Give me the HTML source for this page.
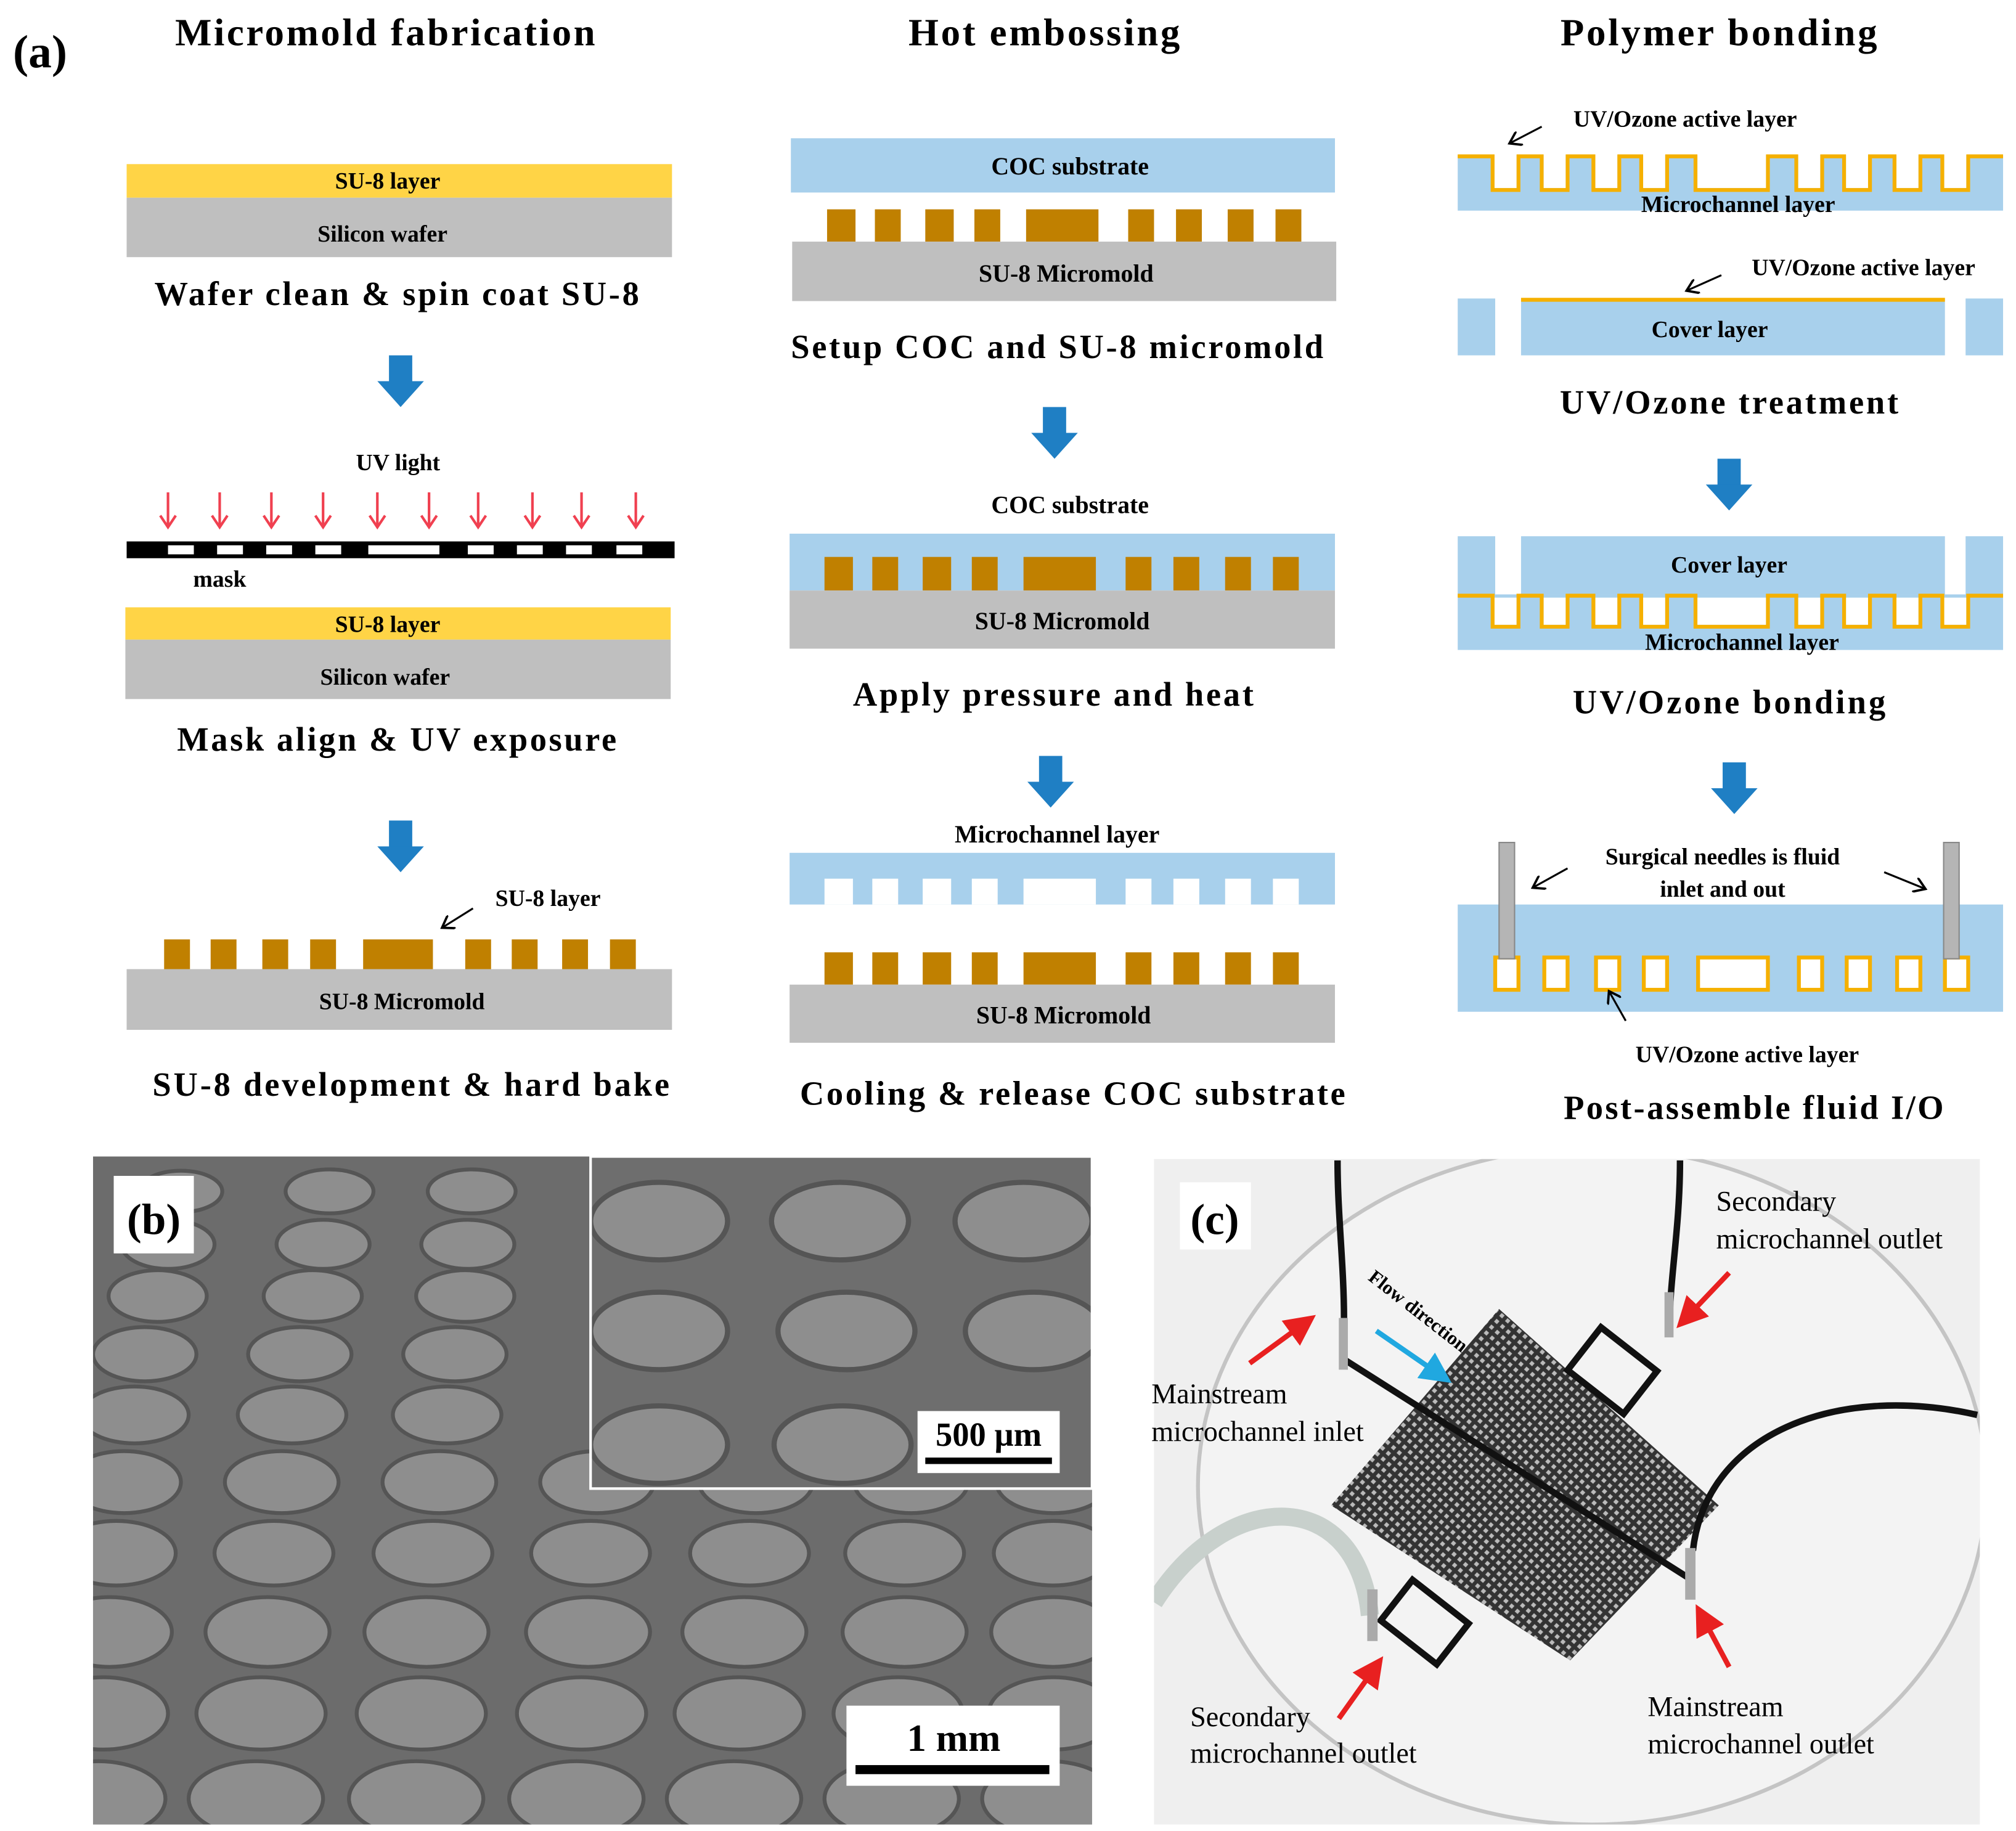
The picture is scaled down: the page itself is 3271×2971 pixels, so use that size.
<!DOCTYPE html>
<html><head><meta charset="utf-8"><style>html,body{margin:0;padding:0;background:#fff}svg{display:block}</style></head><body>
<svg xmlns="http://www.w3.org/2000/svg" width="3271" height="2971" viewBox="0 0 1560 1417" preserveAspectRatio="none" font-family="Liberation Serif, serif" font-weight="bold">
<defs>
<g id="da"><rect x="-9" y="0" width="18" height="22" fill="#1f7fc4"/><polygon points="-18,20 18,20 0,40" fill="#1f7fc4"/></g>
<g id="ra"><line x1="0" y1="0" x2="0" y2="26" stroke="#f04050" stroke-width="2"/><polyline points="-6,18 0,27 6,18" fill="none" stroke="#f04050" stroke-width="2"/></g>
<pattern id="grid" width="6" height="6" patternUnits="userSpaceOnUse" patternTransform="rotate(42)"><rect width="6" height="6" fill="#333"/><rect x="1.5" y="1.5" width="3" height="3" fill="#bbb"/></pattern>
<marker id="ah" markerWidth="8" markerHeight="8" refX="6" refY="4" orient="auto"><polyline points="0,0 6,4 0,8" fill="none" stroke="#000" stroke-width="1.2"/></marker>
<marker id="rh" markerWidth="6" markerHeight="6" refX="5" refY="3" orient="auto"><polygon points="0,0 6,3 0,6" fill="#e82020"/></marker>
<marker id="bh" markerWidth="6" markerHeight="6" refX="5" refY="3" orient="auto"><polygon points="0,0 6,3 0,6" fill="#20a8e0"/></marker>
<clipPath id="cb"><rect x="72" y="895" width="773" height="517"/></clipPath>
<clipPath id="ci"><rect x="457" y="895" width="388" height="257"/></clipPath>
<clipPath id="cc"><rect x="893" y="897" width="639" height="515"/></clipPath>
</defs>
<rect width="1560" height="1417" fill="#fff"/>
<text x="10" y="52" font-size="36">(a)</text>
<g font-size="30" text-anchor="middle">
<text x="298" y="35" textLength="325">Micromold fabrication</text>
<text x="808" y="35" textLength="210">Hot embossing</text>
<text x="1330" y="35" textLength="245">Polymer bonding</text>
</g>

<!-- Column 1 shapes -->
<rect x="98" y="127" width="422" height="26" fill="#ffd446"/>
<rect x="98" y="153" width="422" height="46" fill="#bfbfbf"/>
<use href="#da" x="310" y="275"/>
<use href="#da" x="310" y="635"/>
<use href="#da" x="816" y="315"/>
<use href="#da" x="813" y="585"/>
<use href="#da" x="1338" y="355"/>
<use href="#da" x="1342" y="590"/>
<g><use href="#ra" x="130" y="381"/><use href="#ra" x="170" y="381"/><use href="#ra" x="210" y="381"/><use href="#ra" x="250" y="381"/><use href="#ra" x="292" y="381"/><use href="#ra" x="332" y="381"/><use href="#ra" x="370" y="381"/><use href="#ra" x="412" y="381"/><use href="#ra" x="450" y="381"/><use href="#ra" x="492" y="381"/></g>
<rect x="98" y="419" width="424" height="13" fill="#000"/>
<g fill="#fff"><rect x="130" y="422" width="20" height="7"/><rect x="168" y="422" width="20" height="7"/><rect x="206" y="422" width="20" height="7"/><rect x="244" y="422" width="20" height="7"/><rect x="285" y="422" width="55" height="7"/><rect x="362" y="422" width="20" height="7"/><rect x="400" y="422" width="20" height="7"/><rect x="438" y="422" width="20" height="7"/><rect x="477" y="422" width="20" height="7"/></g>
<rect x="97" y="470" width="422" height="25" fill="#ffd446"/>
<rect x="97" y="495" width="422" height="46" fill="#bfbfbf"/>
<line x1="366" y1="703" x2="342" y2="718" stroke="#000" stroke-width="1.5" marker-end="url(#ah)"/>
<g fill="#c08000"><rect x="127" y="727" width="20" height="23"/><rect x="163" y="727" width="20" height="23"/><rect x="203" y="727" width="20" height="23"/><rect x="240" y="727" width="20" height="23"/><rect x="281" y="727" width="54" height="23"/><rect x="360" y="727" width="20" height="23"/><rect x="396" y="727" width="20" height="23"/><rect x="435" y="727" width="20" height="23"/><rect x="472" y="727" width="20" height="23"/></g>
<rect x="98" y="750" width="422" height="47" fill="#bfbfbf"/>
<g font-size="18" text-anchor="middle">
<text x="300" y="146">SU-8 layer</text>
<text x="296" y="187">Silicon wafer</text>
<text x="300" y="489">SU-8 layer</text>
<text x="298" y="530">Silicon wafer</text>
<text x="308" y="364">UV light</text>
<text x="170" y="454">mask</text>
<text x="424" y="701">SU-8 layer</text>
<text x="311" y="781">SU-8 Micromold</text>
</g>
<g font-size="26" text-anchor="middle">
<text x="307" y="236" textLength="375">Wafer clean &amp; spin coat SU-8</text>
<text x="307" y="581" textLength="340">Mask align &amp; UV exposure</text>
<text x="318" y="848" textLength="400">SU-8 development &amp; hard bake</text>
<text x="818" y="277" textLength="412">Setup COC and SU-8 micromold</text>
<text x="815" y="546" textLength="310">Apply pressure  and heat</text>
<text x="830" y="855" textLength="422">Cooling &amp; release COC substrate</text>
<text x="1338" y="320" textLength="262">UV/Ozone treatment</text>
<text x="1338" y="552" textLength="242">UV/Ozone bonding</text>
<text x="1357" y="866" textLength="294">Post-assemble fluid I/O</text>
</g>

<!-- Column 2 -->
<rect x="612" y="107" width="421" height="42" fill="#a8d0ec"/>
<g fill="#c08000"><rect x="640" y="162" width="22" height="25"/><rect x="677" y="162" width="20" height="25"/><rect x="716" y="162" width="22" height="25"/><rect x="754" y="162" width="20" height="25"/><rect x="794" y="162" width="56" height="25"/><rect x="873" y="162" width="20" height="25"/><rect x="910" y="162" width="20" height="25"/><rect x="950" y="162" width="20" height="25"/><rect x="987" y="162" width="20" height="25"/></g>
<rect x="613" y="187" width="421" height="46" fill="#bfbfbf"/>
<rect x="611" y="413" width="422" height="44" fill="#a8d0ec"/>
<g fill="#c08000"><rect x="638" y="431" width="22" height="26"/><rect x="675" y="431" width="20" height="26"/><rect x="714" y="431" width="22" height="26"/><rect x="752" y="431" width="20" height="26"/><rect x="792" y="431" width="56" height="26"/><rect x="871" y="431" width="20" height="26"/><rect x="908" y="431" width="20" height="26"/><rect x="948" y="431" width="20" height="26"/><rect x="985" y="431" width="20" height="26"/></g>
<rect x="611" y="457" width="422" height="45" fill="#bfbfbf"/>
<rect x="611" y="660" width="422" height="40" fill="#a8d0ec"/>
<g fill="#fff"><rect x="638" y="680" width="22" height="20"/><rect x="675" y="680" width="20" height="20"/><rect x="714" y="680" width="22" height="20"/><rect x="752" y="680" width="20" height="20"/><rect x="792" y="680" width="56" height="20"/><rect x="871" y="680" width="20" height="20"/><rect x="908" y="680" width="20" height="20"/><rect x="948" y="680" width="20" height="20"/><rect x="985" y="680" width="20" height="20"/></g>
<g fill="#c08000"><rect x="638" y="737" width="22" height="25"/><rect x="675" y="737" width="20" height="25"/><rect x="714" y="737" width="22" height="25"/><rect x="752" y="737" width="20" height="25"/><rect x="792" y="737" width="56" height="25"/><rect x="871" y="737" width="20" height="25"/><rect x="908" y="737" width="20" height="25"/><rect x="948" y="737" width="20" height="25"/><rect x="985" y="737" width="20" height="25"/></g>
<rect x="611" y="762" width="422" height="45" fill="#bfbfbf"/>
<g font-size="19" text-anchor="middle">
<text x="828" y="135">COC substrate</text>
<text x="825" y="218">SU-8 Micromold</text>
<text x="828" y="397">COC substrate</text>
<text x="822" y="487">SU-8 Micromold</text>
<text x="818" y="652">Microchannel layer</text>
<text x="823" y="792">SU-8 Micromold</text>
</g>

<!-- Column 3 -->
<rect x="1128" y="120" width="422" height="43" fill="#a8d0ec"/>
<path d="M1128,121 H1155 V147 H1175 V121 H1193 V147 H1213 V121 H1233 V147 H1253 V121 H1270 V147 H1290 V121 H1312 V147 H1368 V121 H1390 V147 H1410 V121 H1427 V147 H1447 V121 H1466 V147 H1486 V121 H1503 V147 H1523 V121 H1550" fill="none" stroke="#f5b000" stroke-width="3"/>
<g fill="#fff"><rect x="1156.5" y="119" width="17" height="26.5"/><rect x="1194.5" y="119" width="17" height="26.5"/><rect x="1234.5" y="119" width="17" height="26.5"/><rect x="1271.5" y="119" width="17" height="26.5"/><rect x="1313.5" y="119" width="53" height="26.5"/><rect x="1391.5" y="119" width="17" height="26.5"/><rect x="1428.5" y="119" width="17" height="26.5"/><rect x="1467.5" y="119" width="17" height="26.5"/><rect x="1504.5" y="119" width="17" height="26.5"/></g>
<g fill="#a8d0ec"><rect x="1128" y="231" width="29" height="44"/><rect x="1177" y="231" width="328" height="44"/><rect x="1521" y="231" width="29" height="44"/></g>
<line x1="1177" y1="232" x2="1505" y2="232" stroke="#f5b000" stroke-width="3"/>
<g fill="#a8d0ec"><rect x="1128" y="415" width="29" height="45"/><rect x="1177" y="415" width="328" height="45"/><rect x="1521" y="415" width="29" height="45"/><rect x="1128" y="460" width="422" height="43"/></g>
<path d="M1128,461 H1155 V485 H1175 V461 H1193 V485 H1213 V461 H1233 V485 H1253 V461 H1270 V485 H1290 V461 H1312 V485 H1368 V461 H1390 V485 H1410 V461 H1427 V485 H1447 V461 H1466 V485 H1486 V461 H1503 V485 H1523 V461 H1550" fill="none" stroke="#f5b000" stroke-width="3"/>
<g fill="#fff"><rect x="1156.5" y="462.5" width="17" height="21"/><rect x="1194.5" y="462.5" width="17" height="21"/><rect x="1234.5" y="462.5" width="17" height="21"/><rect x="1271.5" y="462.5" width="17" height="21"/><rect x="1313.5" y="462.5" width="53" height="21"/><rect x="1391.5" y="462.5" width="17" height="21"/><rect x="1428.5" y="462.5" width="17" height="21"/><rect x="1467.5" y="462.5" width="17" height="21"/><rect x="1504.5" y="462.5" width="17" height="21"/></g>
<rect x="1128" y="700" width="422" height="83" fill="#a8d0ec"/>
<g fill="#fff" stroke="#f5b000" stroke-width="3"><rect x="1157" y="741" width="18" height="25"/><rect x="1195" y="741" width="18" height="25"/><rect x="1235" y="741" width="18" height="25"/><rect x="1272" y="741" width="18" height="25"/><rect x="1314" y="741" width="54" height="25"/><rect x="1392" y="741" width="18" height="25"/><rect x="1429" y="741" width="18" height="25"/><rect x="1468" y="741" width="18" height="25"/><rect x="1505" y="741" width="18" height="25"/></g>
<rect x="1160" y="652" width="12" height="90" fill="#b5b5b5" stroke="#888" stroke-width="1"/>
<rect x="1504" y="652" width="12" height="90" fill="#b5b5b5" stroke="#888" stroke-width="1"/>
<g stroke="#000" stroke-width="1.5" marker-end="url(#ah)" fill="none">
<line x1="1193" y1="98" x2="1168" y2="111"/>
<line x1="1332" y1="213" x2="1305" y2="225"/>
<line x1="1213" y1="672" x2="1186" y2="687"/>
<line x1="1458" y1="675" x2="1490" y2="688"/>
<line x1="1258" y1="790" x2="1245" y2="767"/>
</g>
<g font-size="18" text-anchor="middle">
<text x="1304" y="98">UV/Ozone active layer</text>
<text x="1345" y="164">Microchannel layer</text>
<text x="1442" y="213">UV/Ozone active layer</text>
<text x="1323" y="261">Cover layer</text>
<text x="1338" y="443">Cover layer</text>
<text x="1348" y="503">Microchannel layer</text>
<text x="1333" y="669">Surgical needles is fluid</text>
<text x="1333" y="694">inlet and out</text>
<text x="1352" y="822">UV/Ozone active layer</text>
</g>

<!-- Panel b -->
<rect x="72" y="895" width="773" height="517" fill="#6c6c6c"/>
<g clip-path="url(#cb)" fill="#8e8e8e" stroke="#555" stroke-width="3">
<ellipse cx="140" cy="922" rx="32" ry="16"/><ellipse cx="255" cy="922" rx="34" ry="17"/><ellipse cx="365" cy="922" rx="34" ry="17"/>
<ellipse cx="130" cy="963" rx="36" ry="19"/><ellipse cx="250" cy="963" rx="36" ry="19"/><ellipse cx="362" cy="963" rx="36" ry="19"/>
<ellipse cx="122" cy="1003" rx="38" ry="20"/><ellipse cx="242" cy="1003" rx="38" ry="20"/><ellipse cx="360" cy="1003" rx="38" ry="20"/>
<ellipse cx="112" cy="1048" rx="40" ry="21"/><ellipse cx="232" cy="1048" rx="40" ry="21"/><ellipse cx="352" cy="1048" rx="40" ry="21"/>
<ellipse cx="104" cy="1095" rx="42" ry="22"/><ellipse cx="226" cy="1095" rx="42" ry="22"/><ellipse cx="346" cy="1095" rx="42" ry="22"/>
<ellipse cx="96" cy="1147" rx="44" ry="24"/><ellipse cx="218" cy="1147" rx="44" ry="24"/><ellipse cx="340" cy="1147" rx="44" ry="24"/><ellipse cx="462" cy="1147" rx="44" ry="24"/><ellipse cx="585" cy="1147" rx="44" ry="24"/><ellipse cx="705" cy="1147" rx="44" ry="24"/><ellipse cx="815" cy="1147" rx="44" ry="24"/>
<ellipse cx="90" cy="1202" rx="46" ry="25"/><ellipse cx="212" cy="1202" rx="46" ry="25"/><ellipse cx="335" cy="1202" rx="46" ry="25"/><ellipse cx="457" cy="1202" rx="46" ry="25"/><ellipse cx="580" cy="1202" rx="46" ry="25"/><ellipse cx="700" cy="1202" rx="46" ry="25"/><ellipse cx="815" cy="1202" rx="46" ry="25"/>
<ellipse cx="85" cy="1263" rx="48" ry="27"/><ellipse cx="207" cy="1263" rx="48" ry="27"/><ellipse cx="330" cy="1263" rx="48" ry="27"/><ellipse cx="455" cy="1263" rx="48" ry="27"/><ellipse cx="576" cy="1263" rx="48" ry="27"/><ellipse cx="700" cy="1263" rx="48" ry="27"/><ellipse cx="815" cy="1263" rx="48" ry="27"/>
<ellipse cx="80" cy="1326" rx="50" ry="28"/><ellipse cx="202" cy="1326" rx="50" ry="28"/><ellipse cx="326" cy="1326" rx="50" ry="28"/><ellipse cx="450" cy="1326" rx="50" ry="28"/><ellipse cx="572" cy="1326" rx="50" ry="28"/><ellipse cx="695" cy="1326" rx="50" ry="28"/><ellipse cx="815" cy="1326" rx="50" ry="28"/>
<ellipse cx="76" cy="1392" rx="52" ry="29"/><ellipse cx="198" cy="1392" rx="52" ry="29"/><ellipse cx="322" cy="1392" rx="52" ry="29"/><ellipse cx="446" cy="1392" rx="52" ry="29"/><ellipse cx="568" cy="1392" rx="52" ry="29"/><ellipse cx="690" cy="1392" rx="52" ry="29"/><ellipse cx="812" cy="1392" rx="52" ry="29"/>
</g>
<rect x="457" y="895" width="388" height="257" fill="#6e6e6e"/>
<g clip-path="url(#ci)" fill="#8e8e8e" stroke="#555" stroke-width="4">
<ellipse cx="510" cy="945" rx="53" ry="30"/><ellipse cx="650" cy="945" rx="53" ry="30"/><ellipse cx="792" cy="945" rx="53" ry="30"/>
<ellipse cx="510" cy="1030" rx="53" ry="30"/><ellipse cx="655" cy="1030" rx="53" ry="30"/><ellipse cx="800" cy="1030" rx="53" ry="30"/>
<ellipse cx="510" cy="1118" rx="53" ry="30"/><ellipse cx="652" cy="1118" rx="53" ry="30"/>
</g>
<rect x="457" y="895" width="388" height="257" fill="none" stroke="#fff" stroke-width="2"/>
<rect x="88" y="910" width="62" height="60" fill="#fff"/>
<text x="119" y="955" font-size="34" text-anchor="middle">(b)</text>
<rect x="710" y="1092" width="110" height="48" fill="#fff"/>
<text x="765" y="1119" font-size="26" text-anchor="middle">500 µm</text>
<rect x="716" y="1128" width="98" height="5" fill="#000"/>
<rect x="655" y="1320" width="165" height="62" fill="#fff"/>
<text x="738" y="1355" font-size="30" text-anchor="middle">1 mm</text>
<rect x="662" y="1366" width="150" height="7" fill="#000"/>

<!-- Panel c -->
<rect x="893" y="897" width="639" height="515" fill="#efefef"/>
<g clip-path="url(#cc)">
<ellipse cx="1232" cy="1150" rx="305" ry="262" fill="#f3f3f3" stroke="#c4c4c4" stroke-width="3"/>
<polygon points="1160,1013 1330,1165 1215,1285 1030,1165" fill="url(#grid)"/>
<g fill="none" stroke="#111" stroke-width="5">
<line x1="1040" y1="1052" x2="1308" y2="1222"/>
<rect x="1220" y="1040" width="55" height="42" transform="rotate(38 1248 1061)"/>
<rect x="1075" y="1235" width="55" height="40" transform="rotate(38 1102 1255)"/>
<path d="M1035,898 C1035,940 1040,980 1040,1020"/>
<path d="M1300,898 C1300,950 1292,990 1292,1025"/>
<path d="M1530,1095 C1420,1070 1320,1110 1310,1200"/>
</g>
<path d="M893,1240 C950,1150 1050,1150 1060,1250" fill="none" stroke="#c8d0cc" stroke-width="14"/>
</g>
<g fill="#aaa"><rect x="1036" y="1020" width="7" height="40"/><rect x="1288" y="1000" width="7" height="35"/><rect x="1304" y="1198" width="8" height="40"/><rect x="1058" y="1230" width="8" height="40"/></g>
<g stroke="#e82020" stroke-width="4" marker-end="url(#rh)">
<line x1="967" y1="1055" x2="1015" y2="1020"/>
<line x1="1338" y1="985" x2="1300" y2="1025"/>
<line x1="1338" y1="1290" x2="1314" y2="1245"/>
<line x1="1036" y1="1330" x2="1068" y2="1285"/>
</g>
<line x1="1065" y1="1030" x2="1120" y2="1068" stroke="#20a8e0" stroke-width="4" marker-end="url(#bh)"/>
<rect x="913" y="915" width="55" height="52" fill="#fff"/>
<text x="940" y="955" font-size="34" text-anchor="middle">(c)</text>
<text x="1058" y="990" font-size="15" transform="rotate(38 1058 990)">Flow direction</text>
<g font-size="22" font-weight="normal">
<text x="1328" y="937">Secondary</text>
<text x="1328" y="966">microchannel  outlet</text>
<text x="891" y="1086">Mainstream</text>
<text x="891" y="1115">microchannel  inlet</text>
<text x="921" y="1336">Secondary</text>
<text x="921" y="1364">microchannel  outlet</text>
<text x="1275" y="1328">Mainstream</text>
<text x="1275" y="1357">microchannel  outlet</text>
</g>
</svg>
</body></html>
